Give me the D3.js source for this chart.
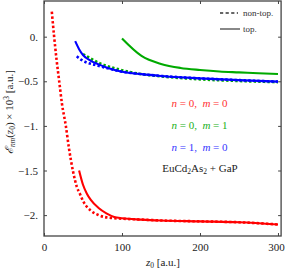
<!DOCTYPE html>
<html><head><meta charset="utf-8">
<script src="https://cdn.jsdelivr.net/npm/d3@7"></script>
<style>body{margin:0;background:#fff}svg{display:block}text{font-family:"Liberation Serif","DejaVu Serif",serif}</style>
</head><body>
<script>
const xTicks = [0, 100, 200, 300];
const xTickLabels = ["0", "100", "200", "300"];
const yTicks = [0, -0.5, -1, -1.5, -2];
const yTickLabels = ["0.", "\u22120.5", "\u22121.", "\u22121.5", "\u22122."];

const red_nontop = [[10,0.28],[13,0],[16,-0.25],[19.5,-0.5],[23,-0.75],[28,-1.0],[32,-1.25],[37,-1.5],[42,-1.68],[46,-1.76],[50,-1.84],[60,-1.95],[70,-2.0],[80,-2.025],[100,-2.04],[125,-2.05],[150,-2.06],[200,-2.07],[250,-2.08],[300,-2.105]];
const red_top = [[45,-1.5],[50,-1.66],[55,-1.76],[60,-1.83],[70,-1.92],[80,-1.98],[90,-2.02],[100,-2.035],[125,-2.05],[150,-2.06],[200,-2.07],[250,-2.08],[300,-2.105]];
const green_nontop = [[50,-0.195],[57,-0.23],[72,-0.30],[87,-0.345],[100,-0.375],[125,-0.42],[150,-0.445],[200,-0.478],[250,-0.497],[300,-0.51]];
const green_top = [[100,-0.02],[125,-0.215],[150,-0.305],[175,-0.35],[200,-0.373],[225,-0.39],[250,-0.40],[275,-0.41],[300,-0.418]];
const blue_nontop = [[42,-0.22],[48,-0.26],[55,-0.29],[65,-0.315],[80,-0.35],[100,-0.392],[125,-0.42],[150,-0.44],[175,-0.455],[200,-0.467],[250,-0.487],[300,-0.504]];
const blue_top = [[40,-0.05],[45,-0.14],[50,-0.205],[60,-0.27],[70,-0.31],[80,-0.345],[100,-0.392],[125,-0.42],[150,-0.44],[175,-0.455],[200,-0.467],[250,-0.487],[300,-0.504]];

const labels = [
  {n:"0", m:"0", color:"#ff3030"},
  {n:"0", m:"1", color:"#20b020"},
  {n:"1", m:"0", color:"#3535ff"}
];

const W = 285, H = 271;
const svg = d3.select("body").append("svg").attr("width", W).attr("height", H);
const x = d3.scaleLinear().domain([0, 304]).range([44, 281.1]);
const y = d3.scaleLinear().domain([-2.234, 0.4]).range([236, 1]);

const line = d3.line().x(d => x(d[0])).y(d => y(d[1])).curve(d3.curveMonotoneX);
const g = svg.append("g");
g.append("clipPath").attr("id","clip").append("rect")
  .attr("x", x(0)).attr("y", y(0.4)).attr("width", x(304)-x(0)).attr("height", y(-2.234)-y(0.4));
const plot = g.append("g").attr("clip-path","url(#clip)");

function draw(data, color, dashed){
  plot.append("path").datum(data).attr("d", line).attr("fill","none")
    .attr("stroke", color).attr("stroke-width", dashed ? 2.6 : 2.1)
    .attr("stroke-dasharray", dashed ? "2.4,2.2" : null);
}
draw(green_top, "#00aa00", false);
draw(green_nontop, "#00aa00", true);
draw(blue_nontop, "#0000ff", true);
draw(blue_top, "#0000ff", false);
draw(red_top, "#ff0000", false);
draw(red_nontop, "#ff0000", true);

const frameColor = "#444";
const axB = d3.axisBottom(x).tickValues(xTicks).tickFormat((d,i)=>xTickLabels[i]).tickSize(-3).tickPadding(7);
const axL = d3.axisLeft(y).tickValues(yTicks).tickFormat((d,i)=>yTickLabels[i]).tickSize(-3).tickPadding(6);
const axT = d3.axisTop(x).tickValues(xTicks).tickFormat("").tickSize(-3);
const axR = d3.axisRight(y).tickValues(yTicks).tickFormat("").tickSize(-3);
function style(sel){
  sel.select(".domain").remove();
  sel.selectAll("line").attr("stroke", frameColor).attr("stroke-width", 1);
  sel.selectAll("text").attr("font-size", "11px").attr("fill", "#222").attr("font-family", '"Liberation Serif",serif');
}
const gB = svg.append("g").attr("transform", `translate(0,${y(-2.234)})`).call(axB).call(style);
gB.selectAll("text").filter(d => d === 300).attr("dx", -2);
svg.append("g").attr("transform", `translate(${x(0)},0)`).call(axL).call(style);
svg.append("g").attr("transform", `translate(0,${y(0.4)})`).call(axT).call(style);
svg.append("g").attr("transform", `translate(${x(304)},0)`).call(axR).call(style);
svg.append("rect").attr("x", x(0)).attr("y", y(0.4)).attr("width", x(304)-x(0)).attr("height", y(-2.234)-y(0.4))
  .attr("fill","none").attr("stroke", frameColor).attr("stroke-width", 1.3);

// x label
const xl = svg.append("text").attr("x", 163).attr("y", 266).attr("text-anchor","middle").attr("font-size","11px").attr("fill","#222");
xl.append("tspan").attr("font-style","italic").text("z");
xl.append("tspan").attr("font-size","7.5px").attr("dy", 2).text("0");
xl.append("tspan").attr("dy", -2).text(" [a.u.]");

// y label
const yl = svg.append("text").attr("transform","translate(13,112) rotate(-90)").attr("text-anchor","middle").attr("font-size","11px").attr("fill","#222");
yl.append("tspan").attr("font-style","italic").text("\u2130");
yl.append("tspan").attr("font-size","7.5px").attr("dy", 2).attr("font-style","italic").text("nm");
yl.append("tspan").attr("dy", -2).text("(");
yl.append("tspan").attr("font-style","italic").text("z");
yl.append("tspan").attr("font-size","7.5px").attr("dy", 2).text("0");
yl.append("tspan").attr("dy", -2).text(") \u00d7 10");
yl.append("tspan").attr("font-size","7.5px").attr("dy", -4).text("3");
yl.append("tspan").attr("dy", 4).text(" [a.u.]");

// legend
const lg = svg.append("g");
lg.append("line").attr("x1",220).attr("x2",238).attr("y1",13).attr("y2",13).attr("stroke","#666").attr("stroke-width",2).attr("stroke-dasharray","3.2,2.4");
lg.append("text").attr("x",243).attr("y",16).attr("font-size","9px").attr("fill","#333").text("non-top.");
lg.append("line").attr("x1",220).attr("x2",240).attr("y1",29).attr("y2",29).attr("stroke","#888").attr("stroke-width",2);
lg.append("text").attr("x",243).attr("y",32).attr("font-size","9px").attr("fill","#333").text("top.");

// series labels
labels.forEach((l, i) => {
  const t = svg.append("text").attr("x", 199.5).attr("y", 107 + i*22).attr("text-anchor","middle").attr("font-size","11px").attr("fill", l.color).attr("xml:space","preserve");
  t.append("tspan").attr("font-style","italic").text("n");
  t.append("tspan").text(" = " + l.n + ",  ");
  t.append("tspan").attr("font-style","italic").text("m");
  t.append("tspan").text(" = " + l.m);
});
const mt = svg.append("text").attr("x", 200).attr("y", 172).attr("text-anchor","middle").attr("font-size","11px").attr("fill","#222");
mt.append("tspan").text("EuCd");
mt.append("tspan").attr("font-size","7.5px").attr("dy",2).text("2");
mt.append("tspan").attr("dy",-2).text("As");
mt.append("tspan").attr("font-size","7.5px").attr("dy",2).text("2");
mt.append("tspan").attr("dy",-2).text(" + GaP");
</script>
</body></html>
